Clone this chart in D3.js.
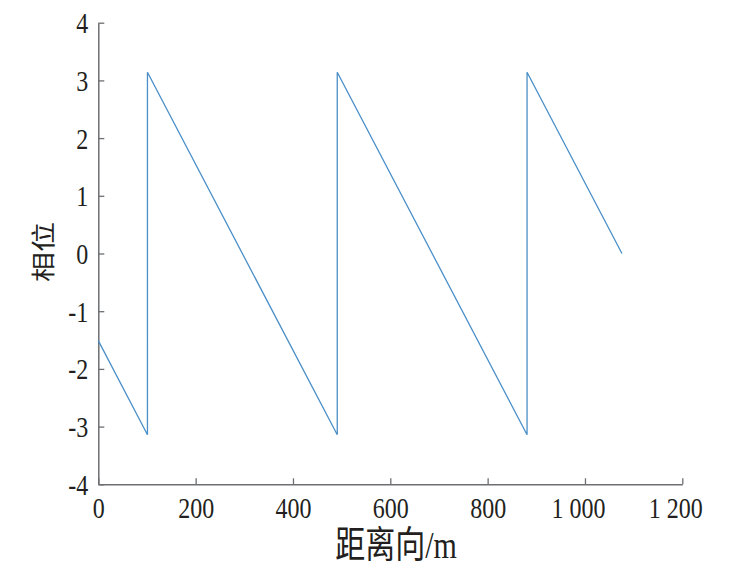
<!DOCTYPE html>
<html>
<head>
<meta charset="utf-8">
<script src="https://cdn.jsdelivr.net/npm/d3@7"></script>
<style>
  body { margin: 0; background: #fff; }
  text { font-family: "Liberation Serif", "Noto Sans CJK SC", serif; fill: #231f20; }
</style>
</head>
<body>
<div id="chart"></div>
<script>
const width = 737;
const height = 576;

// sawtooth phase vs range distance (vertices of the polyline)
const distances = [0, 101, 101, 491, 491, 881, 881, 1076];
const phases = [-1.51, -3.14, 3.14, -3.14, 3.14, -3.14, 3.14, 0];
const xTicks = [0, 200, 400, 600, 800, 1000, 1200];
const xTickLabels = ["0", "200", "400", "600", "800", "1 000", "1 200"];
const yTicks = [-4, -3, -2, -1, 0, 1, 2, 3, 4];

const margin = { left: 98.3, right: 737 - 682.3, top: 22.7, bottom: 576 - 484.3 };
const stretch = 1.25; // text in the picture is stretched vertically

const svg = d3
  .select("#chart")
  .append("svg")
  .attr("width", width)
  .attr("height", height);

const x = d3.scaleLinear().domain([0, 1200]).range([margin.left, width - margin.right]);
const y = d3.scaleLinear().domain([-4, 4]).range([height - margin.bottom, margin.top]);

const axisColor = "#6d6e71";

// x axis
const xAxis = svg
  .append("g")
  .attr("transform", `translate(0,${y(-4)})`)
  .call(d3.axisBottom(x).tickValues(xTicks).tickSize(-6).tickSizeOuter(0).tickFormat((d, i) => xTickLabels[i]));

// y axis (plain hyphen for negatives, like the original)
const yAxis = svg
  .append("g")
  .attr("transform", `translate(${x(0)},0)`)
  .call(d3.axisLeft(y).tickValues(yTicks).tickSize(-6).tickSizeOuter(0).tickFormat((d) => String(d)));

[xAxis, yAxis].forEach((g) => {
  g.select(".domain").attr("stroke", axisColor).attr("stroke-width", 1.5);
  g.selectAll(".tick line").attr("stroke", axisColor).attr("stroke-width", 1.3);
  g.selectAll(".tick text").attr("font-size", 24).attr("fill", "#231f20");
});

xAxis
  .selectAll(".tick text")
  .attr("y", 34 / stretch)
  .attr("dy", 0)
  // the spaced thousands sit a little left of their ticks in the original
  .attr("dx", (d) => (d >= 1000 ? -7 : 0))
  .attr("transform", `scale(1,${stretch})`);

yAxis
  .selectAll(".tick text")
  .attr("x", -10)
  .attr("y", 0)
  .attr("dy", "0.33em")
  .attr("transform", `scale(1,${stretch})`);

// phase line
const line = d3
  .line()
  .x((d, i) => x(distances[i]))
  .y((d) => y(d));

svg
  .append("path")
  .datum(phases)
  .attr("d", line)
  .attr("fill", "none")
  .attr("stroke", "#4a8fc8")
  .attr("stroke-width", 1.3);

// axis titles
svg
  .append("text")
  .attr("transform", `translate(396,558) scale(1,${stretch})`)
  .attr("text-anchor", "middle")
  .attr("font-size", 30)
  .text("距离向/m");

svg
  .append("text")
  .attr("transform", `translate(52,252) scale(1,${stretch}) rotate(-90)`)
  .attr("text-anchor", "middle")
  .attr("font-size", 24)
  .text("相位");
</script>
</body>
</html>
